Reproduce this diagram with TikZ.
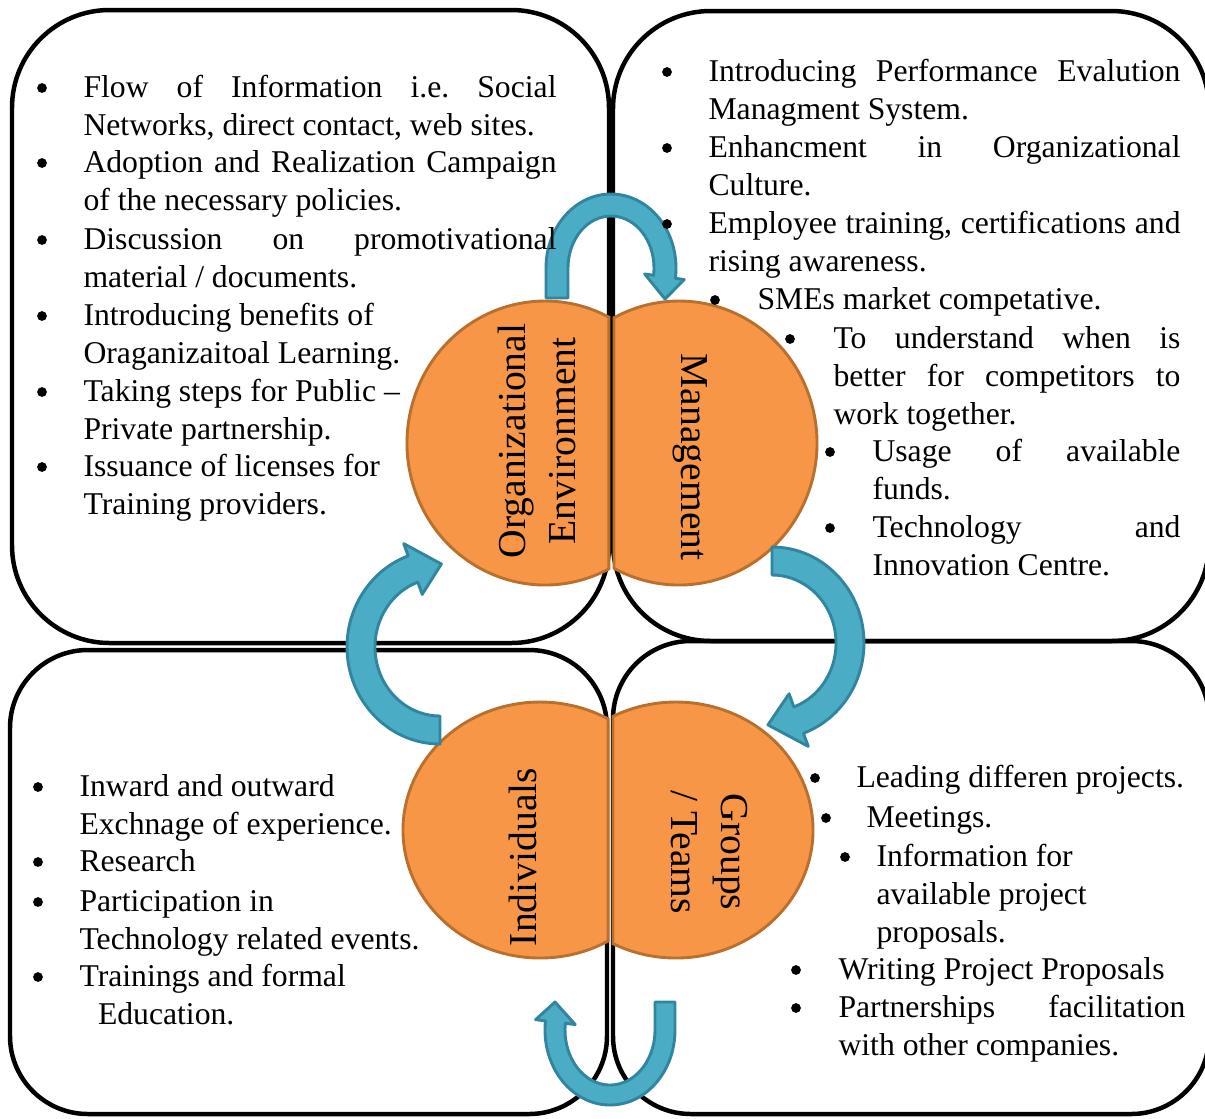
\documentclass[tikz,border=0pt]{standalone}
\usepackage{fontspec}
\setmainfont{Liberation Serif}
\usetikzlibrary{calc}
\definecolor{orgfill}{HTML}{F79646}
\definecolor{orgline}{HTML}{B8702F}
\definecolor{arrfill}{HTML}{4BACC6}
\definecolor{arrline}{HTML}{31859C}
\tikzset{pnl/.style={line width=1.7pt,rounded corners=#1}}
\tikzset{circ/.style={fill=orgfill,draw=orgline,line width=1.1pt}}
\tikzset{blk/.style={fill=arrfill,draw=arrline,line width=1.1pt,line join=round}}
\tikzset{lbl/.style={inner sep=0pt,align=center,font=\fontsize{15pt}{19pt}\selectfont}}
\tikzset{itm/.style={anchor=north west,inner sep=0pt,align=justify,font=\fontsize{12pt}{14.32pt}\selectfont}}
\tikzset{bul/.style={circle,fill=black,inner sep=0pt,minimum size=3.7pt}}
\tolerance=10000 \hbadness=10000 \hyphenpenalty=10000
\frenchspacing
\newcommand{\bitem}[6]{%
  \pgfmathsetmacro\itmw{(#4-#3)*0.3788}%
  \node[bul] (#1b) at (#2,#5-9) {};
  \node[itm,text width=\itmw pt] (#1) at ([yshift=10.02pt]#3,#5) {\strut #6};}

\begin{document}
\begin{tikzpicture}[x=0.3788pt,y=-0.3788pt]
    \useasboundingbox (0,0) rectangle (1205,1118);
    \draw[pnl=37pt] (12,10) rectangle (609,643);
    \draw[pnl=37pt] (613,11) rectangle (1209,641);
    \draw[pnl=29.5pt] (10,650) rectangle (607,1114);
    \draw[pnl=29.5pt] (613,641) rectangle (1209,1114);

    \draw[circ] (545,443) ++(62.4:138 and 142) arc[start angle=62.4,end angle=297.6,x radius=138,y radius=142] -- cycle;
    \draw[circ] (679,443) ++(118.1:138 and 142) arc[start angle=118.1,end angle=-118.1,x radius=138,y radius=142] -- cycle;
    \draw[circ] (540,830) ++(60.2:137 and 128) arc[start angle=60.2,end angle=299.8,x radius=137,y radius=128] -- cycle;
    \draw[circ] (676,830) ++(117.4:137 and 128) arc[start angle=117.4,end angle=-117.4,x radius=137,y radius=128] -- cycle;

    \coordinate (ca) at (611,268);
    \coordinate (cb) at (772,643);
    \coordinate (cc) at (610,1030);
    \coordinate (cd) at (440,647);
    \draw[blk] ($(ca)+(-65,30)$) -- ($(ca)+(-65,0)$) arc[start angle=180,end angle=368,x radius=65,y radius=74] -- ($(ca)+(368:74 and 83)$) -- ($(ca)+(54,31)$) -- ($(ca)+(368:34 and 43)$) -- ($(ca)+(368:43 and 52)$) arc[start angle=368,end angle=180,x radius=43,y radius=52] -- ($(ca)+(-43,30)$) -- cycle;
    \draw[blk] ($(cb)+(-90:92 and 96)$) arc[start angle=-90,end angle=70,x radius=92,y radius=96] -- ($(cb)+(70:106 and 110)$) -- ($(cb)+(93:78 and 82)$) -- ($(cb)+(70:50 and 54)$) -- ($(cb)+(70:64 and 68)$) arc[start angle=70,end angle=-90,x radius=64,y radius=68] -- cycle;
    \draw[blk] ($(cc)+(65,-28)$) -- ($(cc)+(65,0)$) arc[start angle=0,end angle=187,x radius=65,y radius=75] -- ($(cc)+(187:75 and 85)$) -- ($(cc)+(-55,-28)$) -- ($(cc)+(187:35 and 45)$) -- ($(cc)+(187:45 and 55)$) arc[start angle=187,end angle=0,x radius=45,y radius=55] -- ($(cc)+(45,-28)$) -- cycle;
    \draw[blk] ($(cd)+(90:93 and 97)$) arc[start angle=90,end angle=250,x radius=93,y radius=97] -- ($(cd)+(250:106 and 110)$) -- ($(cd)+(271:79 and 83)$) -- ($(cd)+(250:52 and 56)$) -- ($(cd)+(250:65 and 69)$) arc[start angle=250,end angle=90,x radius=65,y radius=69] -- cycle;

    \node[lbl,rotate=90] (orgenv) at (537,441) {Organizational\\Environment};
    \node[lbl,rotate=-90] (mgmt) at (690,457) {Management};
    \node[lbl,rotate=90] (indiv) at (523,857) {Individuals};
    \node[lbl,rotate=-90] (groups) at (709,852) {Groups\\/ Teams};

    \bitem{tla}{42}{83}{556}{97}{Flow of Information i.e. Social\linebreak Networks, direct contact, web sites.}
    \bitem{tlb}{42}{83}{556}{172}{Adoption and Realization Campaign\linebreak of the necessary policies.}
    \bitem{tlc}{42}{83}{556}{249}{Discussion on promotivational\linebreak material / documents.}
    \bitem{tld}{42}{83}{556}{325}{Introducing benefits of\newline Oraganizaitoal Learning.}
    \bitem{tle}{42}{83}{556}{401}{Taking steps for Public --\newline Private partnership.}
    \bitem{tlf}{42}{83}{556}{476}{Issuance of licenses for\newline Training providers.}

    \bitem{tra}{667}{708}{1180}{81}{Introducing Performance Evalution\linebreak Managment System.}
    \bitem{trb}{667}{708}{1180}{157}{Enhancment in Organizational\linebreak Culture.}
    \bitem{trc}{667}{708}{1180}{233}{Employee training, certifications and\linebreak rising awareness.}
    \bitem{trd}{715}{757}{1180}{309}{SMEs market competative.}
    \bitem{tre}{790}{833}{1180}{348}{To understand when is\linebreak better for competitors to\linebreak work together.}
    \bitem{trf}{830}{872}{1180}{461}{Usage of available\linebreak funds.}
    \bitem{trg}{830}{872}{1180}{537}{Technology and\linebreak Innovation Centre.}

    \bitem{bla}{38}{79}{600}{796}{Inward and outward\newline Exchnage of experience.}
    \bitem{blb}{38}{79}{600}{871}{Research}
    \bitem{blc}{38}{79}{600}{911}{Participation in\newline Technology related events.}
    \bitem{bld}{38}{79}{600}{986}{Trainings and formal\newline\hspace*{7pt}Education.}

    \bitem{bra}{815}{856}{1200}{787}{Leading differen projects.}
    \bitem{brb}{826}{866}{1200}{827}{Meetings.}
    \bitem{brc}{845}{876}{1200}{866}{Information for\newline available project\newline proposals.}
    \bitem{brd}{796}{838}{1200}{979}{Writing Project Proposals}
    \bitem{bre}{796}{838}{1185}{1017}{Partnerships facilitation\linebreak with other companies.}
\end{tikzpicture}
\end{document}
